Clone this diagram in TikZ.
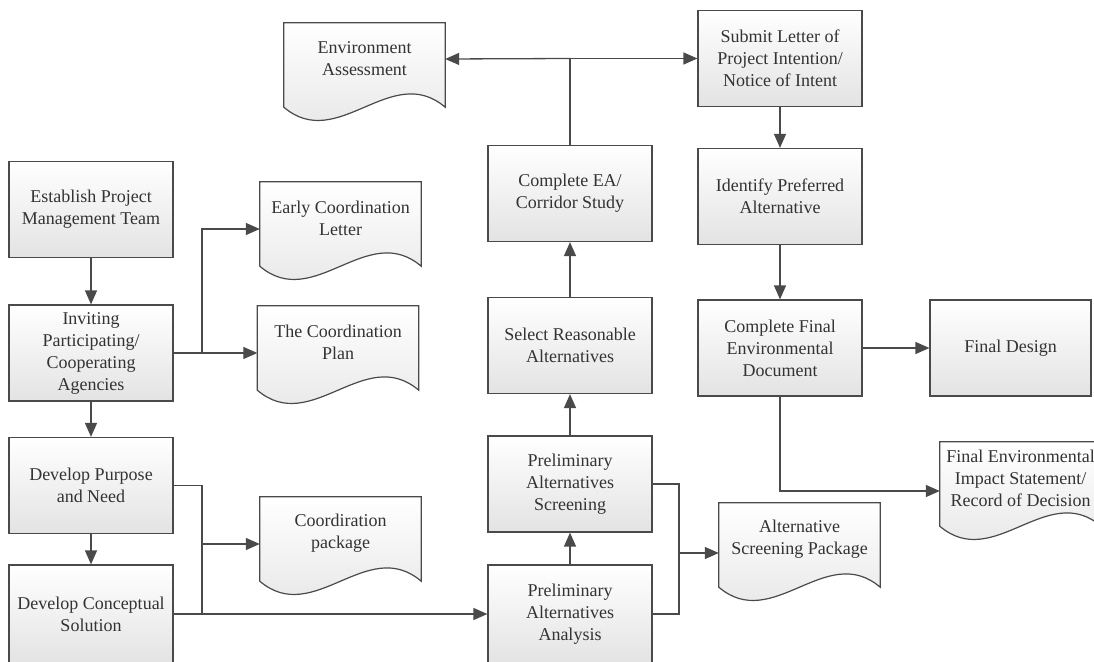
\documentclass[tikz,border=0pt]{standalone}
\usepackage{fontspec}
\setmainfont{Liberation Serif}
\usetikzlibrary{arrows.meta,backgrounds}
\definecolor{edgegray}{HTML}{4A4A4A}
\definecolor{inkgray}{HTML}{333333}

\begin{document}
\begin{tikzpicture}[x=1pt, y=-1pt,
  font=\rmfamily\fontsize{18}{22}\selectfont,
  procbox/.style={draw=edgegray, line width=1.2pt, top color=white, bottom color=black!11, minimum width=164pt, minimum height=96pt, inner sep=2pt, align=center, text=inkgray},
  docbox/.style={minimum width=161pt, minimum height=72pt, inner sep=2pt, align=center, text=inkgray},
  docline/.style={draw=edgegray, line width=1.2pt, top color=white, bottom color=black!11},
  link/.style={draw=edgegray, line width=1.3pt},
  arr/.style={link, -{Triangle[length=14pt,width=12pt]}}]
\useasboundingbox (0,0) rectangle (1094,661);
\node[procbox] (establish) at (91,209.5) {Establish Project\\Management Team};
\node[procbox] (inviting) at (91,353) {Inviting\\Participating/\\Cooperating\\Agencies};
\node[procbox] (purpose) at (91,485.5) {Develop Purpose\\and Need};
\node[procbox, minimum height=98pt] (conceptual) at (91,614) {Develop Conceptual\\Solution};
\node[procbox, minimum height=98pt] (analysis) at (570,614) {Preliminary\\Alternatives\\Analysis};
\node[procbox] (screening) at (570,484) {Preliminary\\Alternatives\\Screening};
\node[procbox] (select) at (570,345.5) {Select Reasonable\\Alternatives};
\node[procbox] (completeEA) at (570,193.5) {Complete EA/\\Corridor Study};
\node[procbox] (submit) at (780,58.5) {Submit Letter of\\Project Intention/\\Notice of Intent};
\node[procbox] (identify) at (780,196.5) {Identify Preferred\\Alternative};
\node[procbox] (finalenv) at (780,348) {Complete Final\\Environmental\\Document};
\node[procbox, minimum width=161pt] (design) at (1010.5,348) {Final Design};
\node[docbox] (env) at (364.5,59) {Environment\\Assessment};
\node[docbox] (early) at (340.5,218) {Early Coordination\\Letter};
\node[docbox] (plan) at (338,342) {The Coordination\\Plan};
\node[docbox] (pkg) at (340.5,533) {Coordiration\\package};
\node[docbox] (alt) at (799.5,539) {Alternative\\Screening Package};
\node[docbox] (eis) at (1020.5,478) {Final Environmental\\Impact Statement/\\Record of Decision};
\begin{pgfonlayer}{background}
\foreach \d in {env,early,plan,pkg,alt,eis}
  \path[docline] (\d.north west) -- (\d.north east) -- ([yshift=-12pt]\d.south east)
    .. controls ([xshift=-54pt,yshift=34pt]\d.south east) and ([xshift=54pt,yshift=-58pt]\d.south west) .. ([yshift=-12pt]\d.south west) -- cycle;
\end{pgfonlayer}
\coordinate (jA) at (202,353);
\coordinate (jB) at (202,614);
\coordinate (jD) at (679,614);
\coordinate (jE) at (completeEA.north |- submit.west);
\draw[arr] (establish) -- (inviting);
\draw[arr] (inviting) -- (purpose);
\draw[arr] (purpose) -- (conceptual);
\draw[arr] (inviting.east) -- ([yshift=-11pt]plan.west);
\draw[arr] (jA) |- ([yshift=-11pt]early.west);
\draw[link] (purpose.east) -| (jB);
\draw[arr] (jB) |- ([yshift=-11pt]pkg.west);
\draw[arr] (conceptual.east) -- (analysis.west);
\draw[arr] (analysis) -- (screening);
\draw[arr] (screening) -- (select);
\draw[arr] (select) -- (completeEA);
\draw[link] (screening.east) -| (jD) -- (analysis.east);
\draw[arr] (jD) |- ([yshift=-14pt]alt.west);
\draw[link] (completeEA.north) -- (jE);
\draw[arr] (jE) -- (env.east);
\draw[arr] (jE) -- (submit.west);
\draw[arr] (submit) -- (identify);
\draw[arr] (identify) -- (finalenv);
\draw[arr] (finalenv) -- (design);
\draw[arr] (finalenv.south) |- ([yshift=-13pt]eis.west);
\end{tikzpicture}
\end{document}
